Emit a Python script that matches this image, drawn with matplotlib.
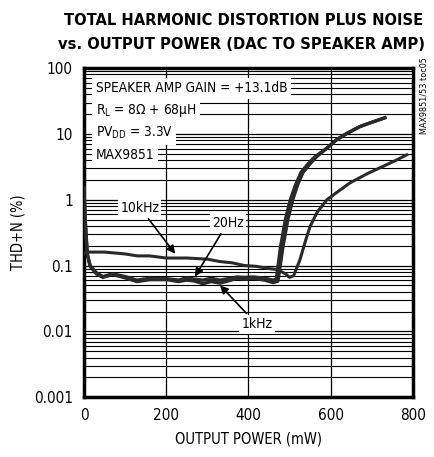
import numpy as np
import matplotlib.pyplot as plt
from matplotlib.ticker import FixedLocator, NullFormatter, LogLocator

# THD+N vs output power
p_10k = [0, 5, 20, 50, 100, 130, 160, 200, 250, 300, 330, 360, 390, 420, 450, 470, 490, 500,
         510, 525, 540, 550, 567, 591, 615, 647, 690, 727, 760, 785]
thd_10k = [0.15, 0.16, 0.16, 0.16, 0.15, 0.14, 0.14, 0.13, 0.13, 0.125, 0.115, 0.11, 0.10,
           0.097, 0.09, 0.087, 0.075, 0.066, 0.07, 0.12, 0.25, 0.39, 0.64, 1.0, 1.29,
           1.8, 2.5, 3.2, 4.0, 4.8]

p_1k = [0, 3, 8, 15, 30, 46, 70, 100, 129, 160, 202, 230, 250, 270, 289, 310, 331, 350, 372,
        390, 411, 440, 460, 472, 484, 496, 508, 520, 533, 550, 566, 590, 615, 640, 671, 700, 732]
thd_1k = [1.5, 0.5, 0.15, 0.097, 0.075, 0.066, 0.073, 0.065, 0.057, 0.061, 0.061, 0.057, 0.06,
          0.058, 0.053, 0.057, 0.054, 0.058, 0.064, 0.062, 0.064, 0.06, 0.055, 0.058, 0.19,
          0.5, 1.0, 1.7, 2.6, 3.5, 4.5, 6.0, 8.2, 10.2, 12.9, 15.0, 17.6]

p_20 = [0, 3, 8, 15, 30, 46, 70, 100, 129, 160, 202, 230, 250, 270, 289, 310, 331, 350, 372,
        390, 411, 440, 460, 468, 478, 490, 502, 515, 528, 545, 562, 590, 615, 640, 671, 700, 732]
thd_20 = [1.5, 0.5, 0.15, 0.1, 0.078, 0.068, 0.075, 0.068, 0.06, 0.064, 0.063, 0.06, 0.065,
          0.062, 0.06, 0.064, 0.06, 0.063, 0.067, 0.066, 0.067, 0.064, 0.06, 0.062, 0.19,
          0.5, 1.0, 1.7, 2.6, 3.5, 4.5, 6.0, 8.2, 10.2, 12.9, 15.0, 17.6]

x_ticks = [0, 200, 400, 600, 800]
y_ticks = [0.001, 0.01, 0.1, 1, 10, 100]
y_labels = ['0.001', '0.01', '0.1', '1', '10', '100']

note_lines = ['SPEAKER AMP GAIN = +13.1dB', '$\\mathregular{R_L}$ = 8Ω + 68μH',
              '$\\mathregular{PV_{DD}}$ = 3.3V', 'MAX9851']

plt.rcParams['font.family'] = ['DejaVu Sans']
plt.rcParams['font.stretch'] = 'condensed'
plt.rcParams['mathtext.fontset'] = 'custom'
plt.rcParams['mathtext.rm'] = 'DejaVu Sans:stretch=condensed'

fig = plt.figure(figsize=(4.35, 4.57), dpi=100)
ax = fig.add_axes([0.193, 0.131, 0.756, 0.72])

ax.set_yscale('log')
ax.set_xlim(0, 800)
ax.set_ylim(0.001, 100)
ax.xaxis.set_major_locator(FixedLocator(x_ticks))
ax.set_xticklabels([str(v) for v in x_ticks])
ax.yaxis.set_major_locator(FixedLocator(y_ticks))
ax.set_yticklabels(y_labels)
ax.yaxis.set_minor_locator(LogLocator(base=10, subs=np.arange(2, 10)))
ax.yaxis.set_minor_formatter(NullFormatter())
ax.tick_params(axis='both', which='both', length=0, labelsize=11, pad=8)
ax.grid(True, which='major', color='black', linewidth=0.9)
ax.grid(True, which='minor', axis='y', color='black', linewidth=0.8)
for s in ax.spines.values():
    s.set_linewidth(2.5)

lc = '#2a2a2a'
ax.plot(p_10k, thd_10k, color=lc, linewidth=2.2, zorder=3)
ax.plot(p_1k, thd_1k, color=lc, linewidth=2.4, zorder=3)
ax.plot(p_20, thd_20, color=lc, linewidth=2.4, zorder=3)

box = dict(facecolor='white', edgecolor='none', pad=2.5)
for i, line in enumerate(note_lines):
    ax.text(0.036, 0.939 - i * 0.068, line, transform=ax.transAxes, fontsize=9.8,
            va='center', ha='left', bbox=box, zorder=4)

arrow = dict(arrowstyle='-|>', color='black', lw=1.2, mutation_scale=12, shrinkA=2, shrinkB=0)
lbox = dict(facecolor='white', edgecolor='none', pad=1.5)
ax.annotate('10kHz', xy=(222, 0.15), xytext=(136, 0.76), fontsize=10, ha='center', va='center',
            bbox=lbox, arrowprops=arrow, zorder=5)
ax.annotate('20Hz', xy=(270, 0.068), xytext=(350, 0.45), fontsize=10, ha='center', va='center',
            bbox=lbox, arrowprops=arrow, zorder=5)
ax.annotate('1kHz', xy=(331, 0.05), xytext=(421, 0.0127), fontsize=10, ha='center', va='center',
            bbox=lbox, arrowprops=arrow, zorder=5)

ax.set_xlabel('OUTPUT POWER (mW)', fontsize=10.5, labelpad=6)
ax.set_ylabel('THD+N (%)', fontsize=10.5, labelpad=6)

fig.text(0.56, 0.956, 'TOTAL HARMONIC DISTORTION PLUS NOISE', fontsize=11.8,
         fontweight='bold', ha='center', va='center')
fig.text(0.556, 0.902, 'vs. OUTPUT POWER (DAC TO SPEAKER AMP)', fontsize=11.8,
         fontweight='bold', ha='center', va='center')
fig.text(0.975, 0.79, 'MAX9851/53 toc05', fontsize=6.5, rotation=90, ha='center', va='center')

fig.savefig('out.png', dpi=100)
